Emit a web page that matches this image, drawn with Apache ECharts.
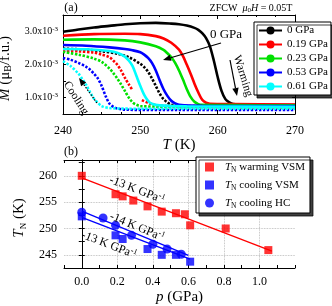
<!DOCTYPE html>
<html><head><meta charset="utf-8">
<script src="https://cdn.jsdelivr.net/npm/echarts@6/dist/echarts.min.js"></script>
<style>html,body{margin:0;padding:0;background:#fff}#c{width:332px;height:306px}</style>
</head><body><div id="c"></div>
<script>
// ---------- Panel (a): M (units of 1e-3 muB/f.u.) vs T (K) ----------
const pressuresA = ['0 GPa', '0.19 GPa', '0.23 GPa', '0.53 GPa', '0.61 GPa'];
const colorsA = ['#000000', '#ff0000', '#00e000', '#0000ff', '#00ffff'];
const yTickLabelsA = [1, 2, 3];
const xTickLabelsA = [240, 250, 260, 270];

// warming (solid)
const Tw0   = [240,242,244,246,248,250,252,254,255,256,257,257.5,258,258.5,259,259.5,260,260.5,261,261.5,262,264,270];
const Mw0   = [2.99,3.06,3.12,3.17,3.22,3.25,3.26,3.24,3.22,3.18,3.11,3.05,2.95,2.8,2.55,2.12,1.62,1.2,0.95,0.85,0.8,0.78,0.77];
const Tw019 = [240,244,248,250,252,253,254,255,255.5,256,256.5,257,257.5,258,258.5,259,262,270];
const Mw019 = [2.87,2.92,2.93,2.92,2.86,2.79,2.66,2.45,2.26,2.0,1.72,1.42,1.15,0.93,0.84,0.81,0.8,0.79];
const Tw023 = [240,244,248,250,252,253,253.5,254,254.5,255,255.5,256,256.5,257,257.5,258,262,270];
const Mw023 = [2.75,2.76,2.73,2.67,2.55,2.44,2.34,2.22,2.05,1.82,1.55,1.26,1.02,0.87,0.8,0.78,0.77,0.76];
const Tw053 = [240,243,246,248,249,250,250.5,251,251.5,252,252.5,253,253.5,254,254.5,255,258,270];
const Mw053 = [2.59,2.57,2.52,2.47,2.43,2.37,2.3,2.2,2.05,1.82,1.52,1.25,1.05,0.9,0.82,0.78,0.75,0.74];
const Tw061 = [240,243,246,247,248,248.5,249,249.5,250,250.5,251,251.5,252.5,256,270];
const Mw061 = [2.47,2.46,2.41,2.36,2.24,2.12,1.95,1.65,1.35,1.08,0.9,0.81,0.76,0.73,0.72];

// cooling (dotted)
const Tc0   = [240,243,245,247,248.5,250,250.5,251,251.5,252,252.5,253,253.5,254,255,260,270];
const Mc0   = [2.48,2.45,2.4,2.33,2.22,2.02,1.92,1.78,1.58,1.35,1.12,0.95,0.85,0.78,0.74,0.72,0.72];
const Tc019 = [240,242,244,245,246,246.5,247,247.5,248,248.5,249,249.6,250.2,251,252,254,270];
const Mc019 = [2.42,2.4,2.36,2.3,2.22,2.12,2.0,1.82,1.6,1.4,1.22,null,0.92,0.84,0.77,0.74,0.74];
const Tc023 = [240,242,244,245,246,246.5,247,247.5,248,248.5,249,249.5,250,255,270];
const Mc023 = [2.38,2.3,2.18,2.08,1.88,1.74,1.58,1.4,1.2,1.0,0.85,0.78,0.74,0.71,0.7];
const Tc053 = [240,241,242,243,243.5,244,244.5,245,245.5,246,246.5,247,248,255,270];
const Mc053 = [2.2,2.14,2.05,1.93,1.84,1.72,1.58,1.35,1.05,0.82,0.72,0.67,0.63,0.62,0.62];
const Tc061 = [240,241,242,242.5,243,243.5,244,244.5,245,246,250,270];
const Mc061 = [2.1,1.95,1.72,1.56,1.38,1.16,0.97,0.84,0.74,0.68,0.66,0.66];

// ---------- Panel (b): T_N (K) vs p (GPa) ----------
const pWarmVSM = [0, 0.19, 0.23, 0.29, 0.37, 0.45, 0.53, 0.58, 0.61, 0.81, 1.05];
const TWarmVSM = [260.0, 256.5, 256.1, 255.3, 254.2, 253.2, 252.9, 252.7, 250.6, 250.0, 245.9];
const pCoolVSM = [0, 0.19, 0.23, 0.37, 0.45, 0.53, 0.61];
const TCoolVSM = [252.3, 248.7, 248.0, 246.1, 245.0, 245.0, 243.7];
const pCoolHC  = [0, 0.12, 0.19, 0.28, 0.40, 0.48, 0.56];
const TCoolHC  = [253.1, 252.0, 250.6, 248.7, 247.0, 246.1, 245.1];
// linear fits (end points)
const pFitWarm = [0, 1.07],  TFitWarm = [259.6, 245.7];
const pFitHC   = [0, 0.6],   TFitHC   = [253.3, 244.9];
const pFitCool = [0, 0.61],  TFitCool = [252.1, 244.2];
const xTickLabelsB = [0, 0.2, 0.4, 0.6, 0.8, 1.0];
const yTickLabelsB = [245, 250, 255, 260];
const legendB = ['warming VSM', 'cooling VSM', 'cooling HC'];

const FONT = 'Liberation Serif';
const pairs = (X, Y) => X.map((x, i) => [x, Y[i] === null ? '-' : Y[i]]);

const warm = [[Tw0,Mw0],[Tw019,Mw019],[Tw023,Mw023],[Tw053,Mw053],[Tw061,Mw061]];
const cool = [[Tc0,Mc0],[Tc019,Mc019],[Tc023,Mc023],[Tc053,Mc053],[Tc061,Mc061]];

const series = [];
cool.forEach((c, i) => series.push({
  name: pressuresA[i] + ' cooling', type: 'line', xAxisIndex: 0, yAxisIndex: 0,
  data: pairs(c[0], c[1]), symbol: 'none', smooth: 0.3, z: 2,
  lineStyle: {color: colorsA[i], width: 2.6, type: [2.4, 1.6], cap: 'butt'}, itemStyle: {color: colorsA[i]}
}));
warm.forEach((w, i) => series.push({
  name: pressuresA[i], type: 'line', xAxisIndex: 0, yAxisIndex: 0,
  data: pairs(w[0], w[1]), symbol: 'none', smooth: 0.3, z: 3,
  lineStyle: {color: colorsA[i], width: 2.6}, itemStyle: {color: colorsA[i]}
}));
[[pFitWarm,TFitWarm,'#ff0000'],[pFitHC,TFitHC,'#0000ff'],[pFitCool,TFitCool,'#0000ff']].forEach(f => series.push({
  type: 'line', xAxisIndex: 2, yAxisIndex: 2, data: pairs(f[0], f[1]), symbol: 'none', z: 2,
  lineStyle: {color: f[2], width: 1.3}
}));
series.push({name: legendB[0], type: 'scatter', xAxisIndex: 2, yAxisIndex: 2, data: pairs(pWarmVSM, TWarmVSM),
  symbol: 'rect', symbolSize: 8, itemStyle: {color: '#ff0000'}, z: 4});
series.push({name: legendB[1], type: 'scatter', xAxisIndex: 2, yAxisIndex: 2, data: pairs(pCoolVSM, TCoolVSM),
  symbol: 'rect', symbolSize: 8, itemStyle: {color: '#0000ff'}, z: 4});
series.push({name: legendB[2], type: 'scatter', xAxisIndex: 2, yAxisIndex: 2, data: pairs(pCoolHC, TCoolHC),
  symbol: 'circle', symbolSize: 9, itemStyle: {color: '#0000ff'}, z: 4});

const axLine = {show: true, lineStyle: {color: '#000', width: 1}};
const tick = (len) => ({show: true, inside: true, length: len, lineStyle: {color: '#000', width: 1}});
const lbl = (extra) => Object.assign({color: '#000', fontFamily: FONT, fontSize: 12}, extra);
const near = (a, b) => Math.abs(a - b) < 1e-6;

const xAxis = [
  {gridIndex: 0, type: 'value', position: 'bottom', min: 240, max: 270, interval: 10,
   axisLine: axLine, axisTick: tick(4), minorTick: {show: true, splitNumber: 4, length: 2, lineStyle: {color: '#000'}},
   splitLine: {show: false}, axisLabel: lbl({margin: 11, formatter: v => xTickLabelsA.some(t => near(t, v)) ? String(v) : ''}),
   name: '{i|T} (K)', nameLocation: 'middle', nameGap: 24,
   nameTextStyle: {color: '#000', fontFamily: FONT, fontSize: 15, rich: {i: {fontStyle: 'italic', fontFamily: FONT, fontSize: 15}}}},
  {gridIndex: 0, type: 'value', position: 'top', min: 240, max: 270, interval: 10,
   axisLine: axLine, axisTick: tick(4), minorTick: {show: true, splitNumber: 4, length: 2, lineStyle: {color: '#000'}},
   splitLine: {show: false}, axisLabel: {show: false}},
  {gridIndex: 1, type: 'value', position: 'bottom', min: -0.1, max: 1.2, interval: 0.1,
   axisLine: axLine, axisTick: tick(3), splitLine: {show: false},
   axisLabel: lbl({margin: 8, formatter: v => xTickLabelsB.some(t => near(t, v)) ? v.toFixed(1) : ''}),
   name: '{i|p} (GPa)', nameLocation: 'middle', nameGap: 22,
   nameTextStyle: {color: '#000', fontFamily: FONT, fontSize: 15, rich: {i: {fontStyle: 'italic', fontFamily: FONT, fontSize: 15}}}},
  {gridIndex: 1, type: 'value', position: 'top', min: -0.1, max: 1.2, interval: 0.1,
   axisLine: axLine, axisTick: tick(3), splitLine: {show: false}, axisLabel: {show: false}},
  {gridIndex: 1, type: 'value', position: 'bottom', min: -0.1, max: 1.2,
   axisLine: {show: false}, axisTick: {show: false, customValues: xTickLabelsB}, axisLabel: {show: false},
   splitLine: {show: true, lineStyle: {color: '#b0b0b0', type: 'dotted', width: 0.8}}}
];
const yAxis = [
  {gridIndex: 0, type: 'value', position: 'left', min: 0.5, max: 3.5, interval: 0.5,
   axisLine: axLine, axisTick: tick(3), splitLine: {show: false},
   axisLabel: {margin: 5, color: '#000', fontFamily: FONT, fontSize: 10,
     formatter: v => yTickLabelsA.some(t => near(t, v)) ? '{b|' + v.toFixed(1) + 'x10}{s|-3}' : '',
     rich: {b: {fontFamily: FONT, fontSize: 10, color: '#000', lineHeight: 12},
            s: {fontFamily: FONT, fontSize: 7, color: '#000', verticalAlign: 'top', lineHeight: 7}}},
   name: '{i|M} (μ{s|B}/f.u.)', nameLocation: 'middle', nameGap: 40,
   nameTextStyle: {color: '#000', fontFamily: FONT, fontSize: 15, padding: [0, 0, 0, -8],
     rich: {i: {fontStyle: 'italic', fontFamily: FONT, fontSize: 15, lineHeight: 18},
            s: {fontFamily: FONT, fontSize: 10, verticalAlign: 'bottom', lineHeight: 10}}}},
  {gridIndex: 0, type: 'value', position: 'right', min: 0.5, max: 3.5, interval: 0.5,
   axisLine: axLine, axisTick: tick(3), splitLine: {show: false}, axisLabel: {show: false}},
  {gridIndex: 1, type: 'value', position: 'left', min: 242.5, max: 263, interval: 2.5,
   axisLine: axLine, axisTick: tick(3), splitLine: {show: false},
   axisLabel: lbl({margin: 7, formatter: v => yTickLabelsB.some(t => near(t, v)) ? String(v) : ''}),
   name: '{i|T}{s|N} (K)', nameLocation: 'middle', nameGap: 36,
   nameTextStyle: {color: '#000', fontFamily: FONT, fontSize: 15, padding: [0, 0, 0, -8],
     rich: {i: {fontStyle: 'italic', fontFamily: FONT, fontSize: 15, lineHeight: 18},
            s: {fontFamily: FONT, fontSize: 9, verticalAlign: 'bottom', lineHeight: 9}}}},
  {gridIndex: 1, type: 'value', position: 'right', min: 242.5, max: 263, interval: 2.5,
   axisLine: axLine, axisTick: tick(3), splitLine: {show: false}, axisLabel: {show: false}},
  {gridIndex: 1, type: 'value', position: 'left', min: 242.5, max: 263,
   axisLine: {show: false}, axisTick: {show: false, customValues: yTickLabelsB}, axisLabel: {show: false},
   splitLine: {show: true, lineStyle: {color: '#b0b0b0', type: 'dotted', width: 0.8}}}
];

function arrow(x1, y1, x2, y2, dash) {
  const dx = x2 - x1, dy = y2 - y1, L = Math.hypot(dx, dy), ux = dx / L, uy = dy / L;
  const hl = 8, hw = 3.2, bx = x2 - ux * hl, by = y2 - uy * hl;
  return [
    {type: 'line', shape: {x1, y1, x2: bx, y2: by}, style: {stroke: '#000', lineWidth: 1.2, lineDash: dash || null}, z: 10},
    {type: 'polygon', shape: {points: [[x2, y2], [bx - uy * hw, by + ux * hw], [bx + uy * hw, by - ux * hw]]}, style: {fill: '#000'}, z: 10}
  ];
}
const txt = (x, y, text, rot, size, rich) => ({
  type: 'text', x, y, rotation: rot || 0, z: 10,
  style: {text, fill: '#000', font: (size || 12) + 'px "' + FONT + '"', align: 'center', verticalAlign: 'middle', rich: rich || {}}
});
const supRich = {t: {fontFamily: FONT, fontSize: 12, lineHeight: 14}, s: {fontFamily: FONT, fontSize: 8, verticalAlign: 'top', lineHeight: 8}};

const graphic = [
  txt(71, 8, '(a)', 0, 12),
  txt(71, 152, '(b)', 0, 12),
  txt(251, 8, '{t|ZFCW  }{i|μ}{s|0}{i|H}{t| = 0.05T}', 0, 10, {
    t: {fontFamily: FONT, fontSize: 10, lineHeight: 12}, i: {fontFamily: FONT, fontSize: 10, fontStyle: 'italic', lineHeight: 12},
    s: {fontFamily: FONT, fontSize: 7, verticalAlign: 'bottom', lineHeight: 8}}),
  txt(226, 35, '0 GPa', 0, 13),
  ...arrow(221, 43, 163, 60),
  txt(243, 76, 'Warming', -1.27, 11.5),
  ...arrow(230, 60, 237, 96),
  txt(76, 98, 'Cooling', -1.0, 11.5),
  ...arrow(97, 103, 79, 78, [1.5, 1.5]),
  txt(137, 190, '{t|-13 K GPa}{s|-1}', -0.368, 12, supRich),
  txt(137, 227, '{t|-14 K GPa}{s|-1}', -0.393, 12, supRich),
  txt(109, 245, '{t|-13 K GPa}{s|-1}', -0.368, 12, supRich)
];

const chart = echarts.init(document.getElementById('c'), null, {renderer: 'canvas'});
chart.setOption({
  animation: false,
  backgroundColor: '#fff',
  grid: [
    {left: 63, top: 15, width: 232, height: 99, containLabel: false, outerBoundsMode: 'none'},
    {left: 64, top: 160, width: 231, height: 108, containLabel: false, outerBoundsMode: 'none'}
  ],
  xAxis, yAxis, series, graphic,
  legend: [
    {data: pressuresA, orient: 'vertical', left: 254, top: 22, padding: [3, 3, 3, 4], itemWidth: 23, itemHeight: 10, itemGap: 3,
     backgroundColor: '#fff', borderColor: '#000', borderWidth: 1, borderRadius: 0,
     shadowColor: 'rgba(0,0,0,0.75)', shadowBlur: 0, shadowOffsetX: 3, shadowOffsetY: 3, selectedMode: false,
     textStyle: {fontFamily: FONT, fontSize: 11, color: '#000', lineHeight: 10}},
    {data: [{name: legendB[0], icon: 'rect'}, {name: legendB[1], icon: 'rect'}, {name: legendB[2], icon: 'circle'}],
     orient: 'vertical', left: 196, top: 157, padding: [3, 5, 3, 9], itemWidth: 9, itemHeight: 9, itemGap: 4,
     backgroundColor: '#fff', borderColor: '#000', borderWidth: 1, borderRadius: 0,
     shadowColor: 'rgba(0,0,0,0.75)', shadowBlur: 0, shadowOffsetX: 3, shadowOffsetY: 3, selectedMode: false,
     formatter: n => '{i|T}{s|N}{t| ' + n + '}',
     textStyle: {fontFamily: FONT, fontSize: 11, color: '#000', lineHeight: 14, padding: [0, 0, 0, 6],
       rich: {i: {fontFamily: FONT, fontSize: 11, fontStyle: 'italic', lineHeight: 14},
              s: {fontFamily: FONT, fontSize: 7.5, verticalAlign: 'bottom', lineHeight: 8},
              t: {fontFamily: FONT, fontSize: 11, lineHeight: 14}}}}
  ]
});
</script></body></html>
